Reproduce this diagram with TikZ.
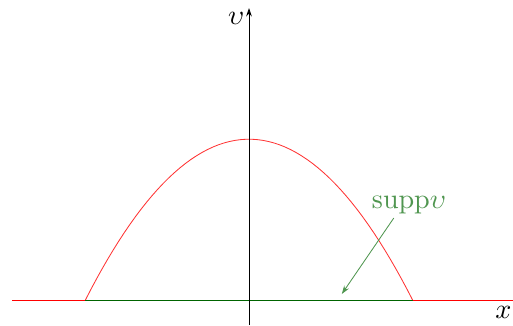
\documentclass[tikz,border=0pt]{standalone}
\usepackage{amsmath,amssymb}
\usepackage{tikz}
\usetikzlibrary{arrows.meta,positioning,calc}
\definecolor{suppgreen}{RGB}{80,150,80}
\definecolor{darkgreen}{RGB}{0,100,0}

\begin{document}
\begin{tikzpicture}[x=1cm,y=1cm,>=Stealth,line width=0.3pt]
\useasboundingbox (-3.1125,-0.3125) rectangle (3.3,3.75);
\draw[red] (-2.96,0) -- (-2.045,0);
\draw[red] (2.045,0) -- (3.3,0);
\draw[darkgreen] (-2.045,0) -- (2.045,0);
\draw[red!80,domain=-2.045:2.045,samples=60] plot (\x,{2.01-2.01*\x*\x/(2.045*2.045)});
\draw[->,>={Stealth[length=3pt,width=2pt]}] (0,-0.3125) -- (0,3.65);
\node (vlabel) at (-0.16,3.52) {$\upsilon$};
\node (xlabel) at (3.18,-0.16) {$x$};
\node[text=suppgreen] (supp) at (2.0,1.19) {$\mathrm{supp}\upsilon$};
\coordinate (from) at (1.81,1.025);
\coordinate (tip) at (1.16,0.075);
\draw[suppgreen,->,>={Stealth[length=3pt,width=2pt]}] (from) -- (tip);
\end{tikzpicture}
\end{document}
